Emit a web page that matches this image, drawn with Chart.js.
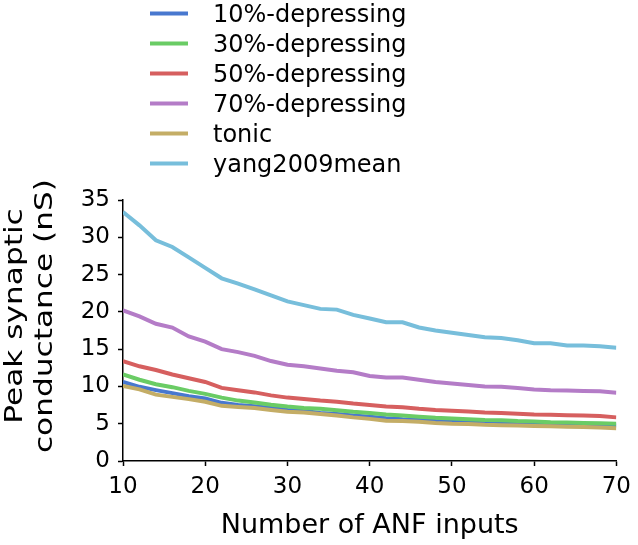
<!DOCTYPE html>
<html>
<head>
<meta charset="utf-8">
<script src="https://cdn.jsdelivr.net/npm/chart.js@4"></script>
<style>
  html, body { margin: 0; padding: 0; background: #fff; }
  canvas { display: block; }
</style>
</head>
<body>
<canvas id="lineChart" width="638" height="545"></canvas>
<script>
// number of ANF inputs (read every 2 inputs)
var inputs = [10, 12, 14, 16, 18, 20, 22, 24, 26, 28, 30, 32, 34, 36, 38, 40,
              42, 44, 46, 48, 50, 52, 54, 56, 58, 60, 62, 64, 66, 68, 70];

var dep10 = [10.6, 9.95, 9.5, 9.1, 8.7, 8.4, 7.8, 7.5, 7.35, 7.1, 6.85, 6.7, 6.45, 6.3, 6.1, 5.95,
             5.75, 5.6, 5.5, 5.35, 5.3, 5.2, 5.1, 5.05, 5.0, 4.95, 4.9, 4.9, 4.85, 4.8, 4.75];
var dep30 = [11.6, 10.9, 10.3, 9.9, 9.4, 9.0, 8.5, 8.1, 7.85, 7.55, 7.3, 7.1, 7.0, 6.8, 6.6, 6.45,
             6.25, 6.1, 5.95, 5.8, 5.7, 5.6, 5.5, 5.45, 5.35, 5.3, 5.2, 5.15, 5.1, 5.05, 5.0];
var dep50 = [13.4, 12.7, 12.2, 11.6, 11.1, 10.6, 9.8, 9.5, 9.2, 8.8, 8.5, 8.3, 8.1, 7.95, 7.7, 7.5,
             7.3, 7.2, 7.0, 6.85, 6.75, 6.65, 6.5, 6.45, 6.35, 6.25, 6.2, 6.15, 6.1, 6.05, 5.85];
var dep70 = [20.2, 19.4, 18.4, 17.9, 16.7, 16.0, 15.0, 14.6, 14.1, 13.4, 12.9, 12.7, 12.4, 12.1, 11.9, 11.4,
             11.2, 11.2, 10.9, 10.6, 10.4, 10.2, 10.0, 9.95, 9.8, 9.6, 9.5, 9.45, 9.4, 9.35, 9.15];
var tonic = [10.05, 9.6, 8.9, 8.6, 8.3, 7.95, 7.4, 7.25, 7.1, 6.85, 6.6, 6.5, 6.3, 6.1, 5.85, 5.65,
             5.4, 5.35, 5.25, 5.1, 5.0, 4.95, 4.85, 4.8, 4.75, 4.7, 4.65, 4.6, 4.55, 4.5, 4.4];
var yang2009 = [33.4, 31.6, 29.6, 28.7, 27.3, 25.9, 24.5, 23.8, 23.0, 22.2, 21.4, 20.9, 20.4, 20.3, 19.6, 19.1,
                18.6, 18.6, 17.9, 17.5, 17.2, 16.9, 16.6, 16.5, 16.2, 15.8, 15.8, 15.5, 15.5, 15.4, 15.2];

var seriesNames = ['10%-depressing', '30%-depressing', '50%-depressing', '70%-depressing', 'tonic', 'yang2009mean'];
var seriesValues = [dep10, dep30, dep50, dep70, tonic, yang2009];
var seriesColors = ['#4878cf', '#6acc65', '#d65f5f', '#b47cc7', '#c4ad66', '#77bedb'];

var xTicks = [10, 20, 30, 40, 50, 60, 70];
var yTicks = [0, 5, 10, 15, 20, 25, 30, 35];
var yTitle = ['Peak synaptic', 'conductance (nS)'];

Chart.defaults.font.family = '"DejaVu Sans", sans-serif';
Chart.defaults.color = '#000';

// vertical legend above the plot and the two-line y title
var extras = {
    id: 'extras',
    afterDraw: function(chart) {
        var c = chart.ctx;
        c.save();
        c.font = '24px "DejaVu Sans"';
        c.textBaseline = 'alphabetic';
        c.textAlign = 'left';
        c.fillStyle = '#000';
        c.lineWidth = 4;
        for (var i = 0; i < seriesNames.length; i++) {
            var y = 13.5 + i * 30;
            c.strokeStyle = seriesColors[i];
            c.beginPath();
            c.moveTo(150, y);
            c.lineTo(188, y);
            c.stroke();
            c.fillText(seriesNames[i], 213, y + 8.5);
        }
        c.restore();

        // y title is a bit taller than wide in the original, so stretch it along its length
        c.save();
        c.font = '24px "DejaVu Sans"';
        c.fillStyle = '#000';
        c.textAlign = 'center';
        c.textBaseline = 'alphabetic';
        c.translate(0, 316);
        c.rotate(-Math.PI / 2);
        c.scale(1.3, 1);
        c.fillText(yTitle[0], 0, 22);
        c.fillText(yTitle[1], 0, 52);
        c.restore();
    }
};

var datasets = seriesNames.map(function(name, i) {
    return {
        label: name,
        data: inputs.map(function(x, j) { return { x: x, y: seriesValues[i][j] }; }),
        borderColor: seriesColors[i],
        backgroundColor: seriesColors[i],
        borderWidth: 4,
        pointRadius: 0,
        tension: 0,
        order: seriesNames.length - i
    };
});

var ctx = document.getElementById('lineChart').getContext('2d');
var lineChart = new Chart(ctx, {
    type: 'line',
    data: { datasets: datasets },
    plugins: [extras],
    options: {
        responsive: false,
        animation: false,
        layout: { padding: { top: 200, right: 18, bottom: 0, left: 0 } },
        plugins: {
            legend: { display: false },
            tooltip: { enabled: false }
        },
        scales: {
            x: {
                type: 'linear',
                min: 10,
                max: 70,
                afterBuildTicks: function(s) { s.ticks = xTicks.map(function(v) { return { value: v }; }); },
                afterFit: function(s) { s.height = 84; },
                ticks: { font: { size: 23 }, padding: 7, maxRotation: 0 },
                grid: { drawOnChartArea: false, tickLength: 5, tickWidth: 1.5, tickColor: '#000' },
                border: { color: '#000', width: 1.5 },
                title: { display: true, text: 'Number of ANF inputs', font: { size: 27 }, padding: { top: 0, bottom: 3 } }
            },
            y: {
                min: 0,
                max: 35,
                afterBuildTicks: function(s) { s.ticks = yTicks.map(function(v) { return { value: v }; }); },
                afterFit: function(s) { s.width = 123; },
                ticks: { font: { size: 23 }, padding: 8 },
                grid: { drawOnChartArea: false, tickLength: 5, tickWidth: 1.5, tickColor: '#000' },
                border: { color: '#000', width: 1.5 }
            }
        }
    }
});
</script>
</body>
</html>
